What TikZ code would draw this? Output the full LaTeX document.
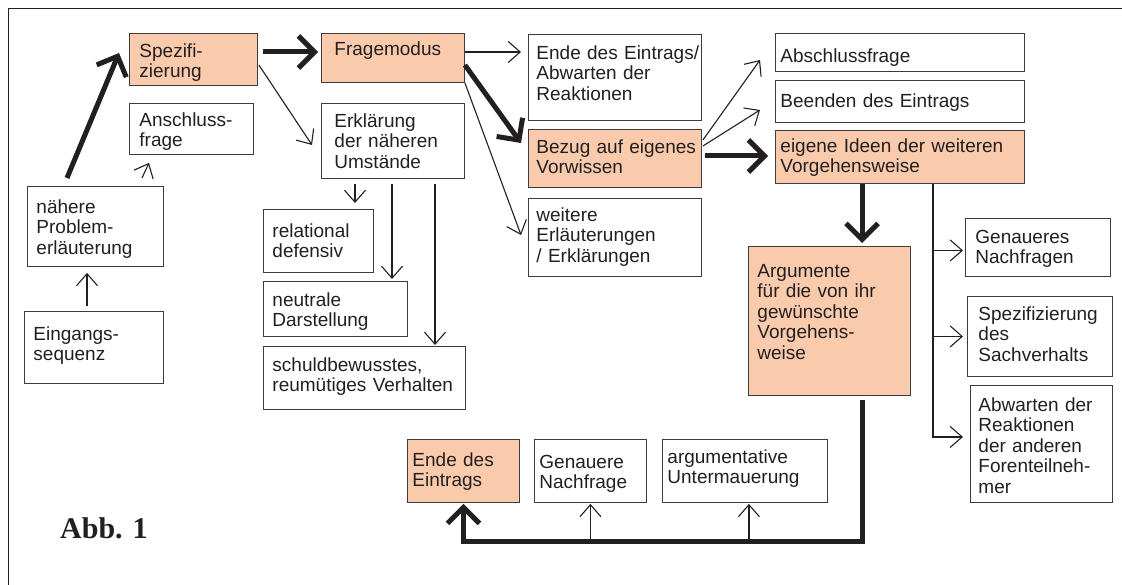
\documentclass[tikz,border=0pt]{standalone}
\usepackage{fontspec}
\setmainfont{Liberation Sans}
\newfontfamily\abbfont{Liberation Serif}
\usetikzlibrary{arrows.meta, calc}
\definecolor{CPeach}{HTML}{F9CBAC}
\definecolor{CInk}{HTML}{231F20}
\definecolor{CEdge}{HTML}{3C3C3C}

\begin{document}
\begin{tikzpicture}[
    x=1pt, y=-1pt,
    % boxes hang from their top-left corner, text starts at the top
    box/.style={draw=CEdge, line width=0.9pt, anchor=north west, align=left,
        inner ysep=0pt, text=CInk, font=\fontsize{19}{20.5}\selectfont,
        execute at begin node={\hyphenpenalty=10000\relax}},
    peach/.style={fill=CPeach},
    thin arrow/.style={draw=CInk, line width=1.1pt, -{Straight Barb[length=12pt, width=21pt]}},
    thick arrow/.style={draw=CInk, line width=5pt, -{Straight Barb[length=16pt, width=32pt]}}
]
    \useasboundingbox (0,0) rectangle (1122,585);

    % Frame (top and left edge only)
    \draw[CInk, line width=1pt] (8,585) -- (8,9) -- (1122,9);

    % -------------------------
    % Left column
    % -------------------------
    \node[box, text width=121pt, inner xsep=9pt, text height=29pt, text depth=43pt] (eingang) at (24,311) {Eingangs-\\sequenz};
    \node[box, text width=118pt, inner xsep=9pt, text height=27pt, text depth=53pt] (naehere) at (27,186) {nähere\\Problem-\\erläuterung};
    \node[box, peach, text width=108pt, inner xsep=10pt, text height=24pt, text depth=28pt] (spezi) at (129,33) {Spezifi-\\zierung};
    \node[box, text width=104pt, inner xsep=10pt, text height=23pt, text depth=28pt] (anschluss) at (129,103) {Anschluss-\\frage};

    % -------------------------
    % Second column
    % -------------------------
    \node[box, peach, text width=117pt, inner xsep=13pt, text height=22pt, text depth=27pt] (frage) at (321,33) {Fragemodus};
    \node[box, text width=117pt, inner xsep=13pt, text height=24pt, text depth=51pt] (erklaerung) at (321,103) {Erklärung\\der~näheren\\Umstände};
    \node[box, text width=92pt, inner xsep=9pt, text height=28pt, text depth=35pt] (relational) at (263,209) {relational\\defensiv};
    \node[box, text width=126pt, inner xsep=9pt, text height=25pt, text depth=30pt] (neutrale) at (263,281) {neutrale\\Darstellung};
    \node[box, text width=184pt, inner xsep=9pt, text height=25pt, text depth=38pt] (schuld) at (263,346) {schuldbewusstes,\\reumütiges~Verhalten};

    % -------------------------
    % Third column
    % -------------------------
    \node[box, text width=157pt, inner xsep=8pt, text height=25pt, text depth=61pt] (endeab) at (528,34) {Ende~des~Eintrags/\\Abwarten~der\\Reaktionen};
    \node[box, peach, text width=157pt, inner xsep=8pt, text height=24pt, text depth=34pt] (bezug) at (528,129) {Bezug~auf~eigenes\\Vorwissen};
    \node[box, text width=157pt, inner xsep=8pt, text height=23pt, text depth=55pt] (weitere) at (528,198) {weitere\\Erläuterungen\\/~Erklärungen};

    % -------------------------
    % Right part
    % -------------------------
    \node[box, text width=239pt, inner xsep=5pt, text height=29pt, text depth=9pt] (abschluss) at (775,33) {Abschlussfrage};
    \node[box, text width=239pt, inner xsep=5pt, text height=27pt, text depth=15pt] (beenden) at (775,80) {Beenden des Eintrags};
    \node[box, peach, text width=239pt, inner xsep=5pt, text height=22pt, text depth=31pt] (eigene) at (775,130) {eigene~Ideen~der~weiteren\\Vorgehensweise};
    \node[box, peach, text width=144pt, inner xsep=9pt, text height=31pt, text depth=118pt] (argumente) at (748,246) {Argumente\\für~die~von~ihr\\gewünschte\\Vorgehens-\\weise};
    \node[box, text width=125pt, inner xsep=10pt, text height=25pt, text depth=33pt] (genaueres) at (965,218) {Genaueres\\Nachfragen};
    \node[box, text width=123pt, inner xsep=11pt, text height=24pt, text depth=56pt] (sachverhalt) at (967,296) {Spezifizierung\\des\\Sachverhalts};
    \node[box, text width=126pt, inner xsep=8pt, text height=26pt, text depth=91pt] (abwarten) at (970,385) {Abwarten~der\\Reaktionen\\der~anderen\\Forenteilneh-\\mer};

    % -------------------------
    % Bottom row
    % -------------------------
    \node[box, peach, text width=102pt, inner xsep=5pt, text height=27pt, text depth=36pt] (ende) at (407,439) {Ende~des\\Eintrags};
    \node[box, text width=102pt, inner xsep=5pt, text height=29pt, text depth=34pt] (genauere) at (534,439) {Genauere\\Nachfrage};
    \node[box, text width=155pt, inner xsep=5pt, text height=24pt, text depth=39pt] (untermauer) at (662,439) {argumentative\\Untermauerung};

    \node[anchor=base west, inner sep=0pt, text=CInk, font=\abbfont\bfseries\fontsize{30}{30}\selectfont] (abb) at (60,538) {Abb. 1};

    % Connectors on the left
    \draw[thin arrow] ([xshift=63pt, yshift=5pt]eingang.north west) -- ([xshift=60pt, yshift=-6pt]naehere.south west);
    \draw[thick arrow] ([xshift=40pt, yshift=8pt]naehere.north west) -- ([xshift=-10pt, yshift=-20pt]spezi.north west);
    \draw[thin arrow] ([xshift=115pt, yshift=8pt]naehere.north west) -- ([xshift=20pt, yshift=-8pt]anschluss.south west);
    \draw[thick arrow] ([xshift=5pt, yshift=-19pt]spezi.north east) -- ([xshift=-3pt, yshift=-19pt]frage.north west);
    \draw[thin arrow] ([xshift=1pt, yshift=-32pt]spezi.north east) -- ([xshift=-9pt, yshift=-42pt]erklaerung.north west);

    % Erklaerung fans out downwards
    \draw[thin arrow] ([xshift=34pt, yshift=-5pt]erklaerung.south west) -- ([xshift=92pt, yshift=6pt]relational.north west);
    \draw[thin arrow] ([xshift=71pt, yshift=-5pt]erklaerung.south west) -- ([xshift=129pt, yshift=2pt]neutrale.north west);
    \draw[thin arrow] ([xshift=114pt, yshift=-5pt]erklaerung.south west) -- ([xshift=172pt, yshift=1pt]schuld.north west);

    % Fragemodus
    \draw[thin arrow] ([yshift=-19pt]frage.north east) -- ([xshift=-7pt, yshift=-18pt]endeab.north west);
    \draw[thick arrow] ([yshift=-32pt]frage.north east) -- ([xshift=-7pt, yshift=-14pt]bezug.north west);
    \draw[thin arrow] (frage.south east) -- ([xshift=-7pt, yshift=-37pt]weitere.north west);

    % Bezug auf eigenes Vorwissen
    \draw[thin arrow] ([xshift=1pt, yshift=-11pt]bezug.north east) -- ([xshift=-15pt, yshift=-27pt]abschluss.north west);
    \draw[thin arrow] ([xshift=1pt, yshift=-17pt]bezug.north east) -- ([xshift=-15pt, yshift=-30pt]beenden.north west);
    \draw[thick arrow] ([xshift=3pt, yshift=-27pt]bezug.north east) -- ([xshift=-7pt, yshift=-26pt]eigene.north west);

    % eigene Ideen: main branch down, side trunk to the right
    \draw[thick arrow] ([xshift=87pt]eigene.south west) -- ([xshift=114pt, yshift=3pt]argumente.north west);
    \coordinate (trunk) at ([xshift=158pt]eigene.south west);
    \draw[thin arrow] (trunk) |- ([xshift=-7pt, yshift=7pt]abwarten.west);
    \draw[thin arrow] ([xshift=-32pt, yshift=-3pt]genaueres.west) -- ([xshift=-2pt, yshift=-3pt]genaueres.west);
    \draw[thin arrow] ([xshift=-34pt]sachverhalt.west) -- ([xshift=-4pt]sachverhalt.west);

    % Loop back along the bottom
    \coordinate (loop) at ([yshift=-39pt]ende.south);
    \draw[thick arrow] ([xshift=114pt, yshift=-4pt]argumente.south west) |- (loop) -- ([yshift=-1pt]ende.south);
    \draw[thin arrow] (genauere.south |- loop) -- ([yshift=-1pt]genauere.south);
    \draw[thin arrow] ($(untermauer.south |- loop)+(4,0)$) -- ([xshift=4pt, yshift=-1pt]untermauer.south);

\end{tikzpicture}
\end{document}
